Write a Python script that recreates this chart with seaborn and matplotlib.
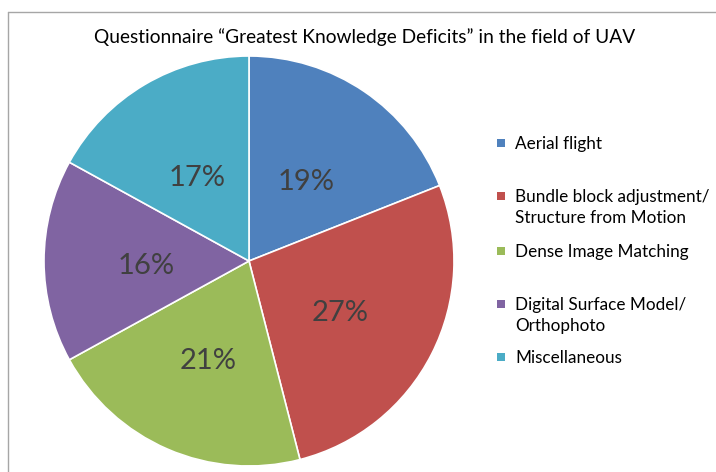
import matplotlib
matplotlib.use("Agg")
import matplotlib.pyplot as plt
import seaborn as sns
from matplotlib.patches import Rectangle
from matplotlib.lines import Line2D
from matplotlib.transforms import offset_copy

sns.set_theme(style="white")
plt.rcParams['font.family'] = ['Lato', 'DejaVu Sans']

categories = ["Aerial flight",
              "Bundle block adjustment/\nStructure from Motion",
              "Dense Image Matching",
              "Digital Surface Model/\nOrthophoto",
              "Miscellaneous"]
values = [19, 27, 21, 16, 17]
colors = ["#4F81BD", "#C0504D", "#9BBB59", "#8064A2", "#4BACC6"]
title = "Questionnaire \u201cGreatest Knowledge Deficits\u201d in the field of UAV"

W, H = 716, 472
fig = plt.figure(figsize=(W / 100, H / 100), dpi=100)
fig.patch.set_facecolor("white")

# pie axes: center (249, 261) px, radius 205 px
cx, cy, r = 249, 261, 205
ax = fig.add_axes([(cx - r) / W, (H - cy - r) / H, 2 * r / W, 2 * r / H])
wedges, texts, autotexts = ax.pie(
    values, colors=colors, startangle=90, counterclock=False,
    autopct="%d%%", pctdistance=0.5,
    wedgeprops=dict(edgecolor="white", linewidth=1.2),
    textprops=dict(color="#404040", fontsize=21))
for t in autotexts:
    t.set_transform(offset_copy(t.get_transform(), fig=fig, y=-5.5, units="dots"))
ax.set_xlim(-1, 1)
ax.set_ylim(-1, 1)
ax.set_aspect("equal")
ax.axis("off")

fig.text(365 / W, 1 - 37 / H, title, ha="center", va="center",
         fontsize=13.8, color="#000000")

# legend (manual layout to match reference spacing)
marker_y = [143, 196, 251, 304, 357]
for lab, col, my in zip(categories, colors, marker_y):
    s = 8
    fig.patches.append(Rectangle(((497) / W, (H - my - s / 2) / H), s / W, s / H,
                                 transform=fig.transFigure, facecolor=col,
                                 edgecolor="none"))
    fig.text(515 / W, 1 - (my - 7) / H, lab, ha="left", va="top",
             fontsize=12.3, color="#000000", linespacing=1.35)

# chart border (top and left visible)
fig.lines.append(Line2D([8 / W, 1.0], [1 - 12 / H, 1 - 12 / H],
                        transform=fig.transFigure, color="#A6A6A6", linewidth=1))
fig.lines.append(Line2D([8 / W, 8 / W], [0, 1 - 12 / H],
                        transform=fig.transFigure, color="#A6A6A6", linewidth=1))

fig.savefig("out.png", dpi=100, facecolor="white")
